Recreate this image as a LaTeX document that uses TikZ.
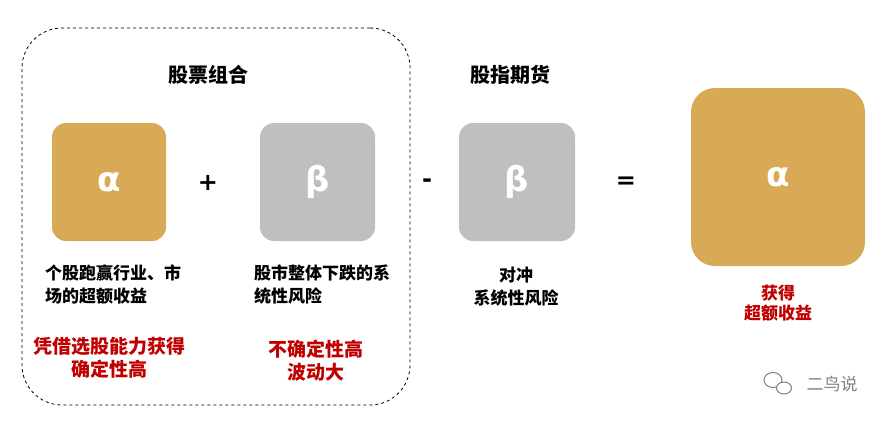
\documentclass[tikz,border=0pt]{standalone}
\usepackage{fontspec}
\setmainfont{Liberation Sans}
\newfontfamily\cjk{Noto Sans CJK SC}
\newfontfamily\dv{DejaVu Sans}
\definecolor{gold}{HTML}{D9AA55}
\definecolor{gry}{HTML}{BFBFBF}
\definecolor{dred}{HTML}{C00000}
\begin{document}
\begin{tikzpicture}[x=1pt,y=-1pt,
  box/.style={draw=none,rounded corners=14pt},
  blk/.style={font=\cjk\bfseries\fontsize{17}{23}\selectfont,text=black},
  red/.style={font=\cjk\bfseries\fontsize{19}{23}\selectfont,text=dred,align=center},
  ttl/.style={font=\cjk\bfseries\fontsize{20}{22}\selectfont},
  sym/.style={font=\dv\bfseries\fontsize{24}{26}\selectfont},
  gl/.style={font=\dv\bfseries\fontsize{34}{36}\selectfont,text=white}]
\useasboundingbox (0,0) rectangle (895,424);
\node[draw=black,dashed,line width=0.8pt,rounded corners=40pt,minimum width=388pt,minimum height=377pt] (grp) at (216,216.5) {};
\node[ttl] (t1) at (208,75) {股票组合};
\node[ttl] (t2) at (510,75) {股指期货};
\node[box,fill=gold,minimum width=114pt,minimum height=118pt] (a1) at (109,182) {};
\node[gl] (a1t) at (a1) {α};
\node[sym] (plus) at (208,183) {+};
\node[box,fill=gry,minimum width=115pt,minimum height=118pt] (b1) at (317.5,182) {};
\node[gl] (b1t) at (b1) {β};
\node[sym] (minus) at (427,183) {-};
\node[box,fill=gry,minimum width=116pt,minimum height=118pt] (b2) at (517,182) {};
\node[gl] (b2t) at (b2) {β};
\node[sym] (eq) at (626,183) {=};
\node[box,fill=gold,rounded corners=24pt,minimum width=174pt,minimum height=178pt] (a2) at (778,177) {};
\node[gl] (a2t) at (a2) {α};
\node[blk,anchor=north west,align=left,inner sep=0] (d1) at (45,265) {个股跑赢行业、市\\场的超额收益};
\node[blk,anchor=north west,align=left,inner sep=0] (d2) at (254,265) {股市整体下跌的系\\统性风险};
\node[blk,anchor=north,align=center,inner sep=0] (d3) at (516,267) {对冲\\系统性风险};
\node[red] (r1) at (110,358) {凭借选股能力获得\\确定性高};
\node[red] (r2) at (316,361) {不确定性高\\波动大};
\node[red,font=\cjk\bfseries\fontsize{17}{20}\selectfont] (r3) at (778,303) {获得\\超额收益};
\draw[gray,line width=1pt] (773,380) ellipse (9pt and 7.5pt);
\draw[gray,line width=1pt,fill=white] (784,388) ellipse (7.5pt and 6pt);
\node[font=\cjk\fontsize{17}{18}\selectfont,text=gray] (wm) at (832,384) {二鸟说};
\end{tikzpicture}
\end{document}
